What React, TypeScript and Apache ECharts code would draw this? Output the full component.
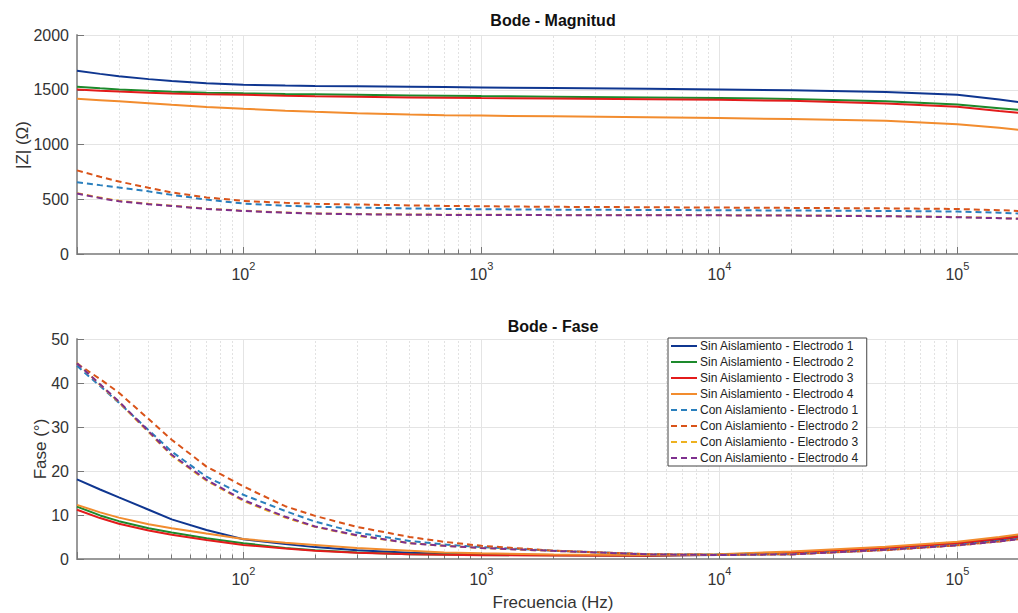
import React, { useEffect, useRef } from 'react';
import * as echarts from 'echarts';

const FREQ = [20, 25, 30, 40, 50, 70, 100, 150, 200, 300, 500, 700, 1000, 2000, 5000, 10000, 20000, 50000, 100000, 150000, 200000];

const MAG_SIN1 = [1674, 1645, 1624, 1597, 1579, 1559, 1546, 1538, 1534, 1531, 1527, 1524, 1521, 1515, 1508, 1503, 1496, 1479, 1454, 1412, 1375];
const MAG_SIN2 = [1527, 1513, 1503, 1490, 1482, 1473, 1467, 1461, 1458, 1454, 1448, 1445, 1442, 1437, 1430, 1424, 1416, 1396, 1366, 1332, 1308];
const MAG_SIN3 = [1503, 1491, 1483, 1472, 1466, 1459, 1454, 1446, 1441, 1436, 1430, 1427, 1424, 1419, 1413, 1408, 1399, 1375, 1344, 1306, 1280];
const MAG_SIN4 = [1418, 1405, 1394, 1376, 1362, 1343, 1326, 1309, 1298, 1285, 1273, 1268, 1264, 1257, 1248, 1241, 1233, 1216, 1186, 1152, 1125];
const MAG_CON1 = [656, 629, 607, 572, 540, 497, 461, 441, 432, 424, 416, 412, 409, 405, 402, 400, 397, 393, 388, 377, 366];
const MAG_CON2 = [764, 705, 662, 605, 562, 517, 485, 467, 458, 452, 444, 439, 436, 431, 427, 424, 421, 417, 411, 400, 390];
const MAG_CON3 = [556, 515, 486, 458, 441, 414, 395, 379, 371, 365, 361, 359, 358, 357, 356, 355, 353, 347, 338, 329, 320];
const MAG_CON4 = [552, 511, 481, 455, 439, 412, 393, 377, 369, 363, 359, 357, 356, 355, 354, 353, 351, 345, 336, 327, 318];

const PH_SIN1 = [18.1, 15.8, 14.0, 11.2, 9.0, 6.6, 4.5, 3.4, 2.7, 2.0, 1.4, 1.2, 1.0, 0.9, 0.8, 0.9, 1.3, 2.3, 3.5, 4.4, 5.2];
const PH_SIN2 = [11.9, 9.9, 8.6, 7.0, 6.0, 4.7, 3.6, 2.5, 2.0, 1.5, 1.1, 1.0, 0.9, 0.85, 0.8, 1.0, 1.5, 2.6, 3.7, 4.7, 5.5];
const PH_SIN3 = [11.2, 9.3, 8.0, 6.5, 5.5, 4.3, 3.2, 2.4, 1.9, 1.4, 1.1, 0.95, 0.85, 0.8, 0.75, 0.95, 1.45, 2.5, 3.6, 4.6, 5.3];
const PH_SIN4 = [12.3, 10.6, 9.4, 7.9, 7.0, 5.8, 4.55, 3.7, 3.2, 2.5, 1.9, 1.5, 1.3, 1.05, 0.9, 1.1, 1.7, 2.8, 3.9, 5.0, 5.9];
const PH_CON1 = [43.9, 39.3, 35.5, 29.3, 24.4, 18.7, 14.6, 10.9, 8.5, 6.0, 4.1, 3.3, 2.7, 1.9, 1.1, 0.95, 1.1, 2.1, 3.2, 4.1, 4.9];
const PH_CON2 = [44.4, 40.9, 37.8, 31.8, 27.1, 21.0, 16.5, 12.0, 9.8, 7.3, 5.0, 3.9, 3.0, 1.9, 1.1, 0.95, 1.1, 2.0, 3.1, 4.0, 4.8];
const PH_CON3 = [44.6, 39.6, 35.6, 28.8, 23.5, 17.8, 13.2, 9.4, 7.3, 5.3, 3.6, 3.0, 2.5, 1.85, 1.05, 0.9, 1.05, 2.1, 3.1, 4.0, 4.8];
const PH_CON4 = [44.5, 39.7, 35.8, 29.0, 23.7, 18.0, 13.4, 9.6, 7.4, 5.4, 3.6, 3.0, 2.5, 1.85, 1.05, 0.9, 1.05, 2.1, 3.1, 4.0, 4.8];

const NAMES = [
  'Sin Aislamiento - Electrodo 1',
  'Sin Aislamiento - Electrodo 2',
  'Sin Aislamiento - Electrodo 3',
  'Sin Aislamiento - Electrodo 4',
  'Con Aislamiento - Electrodo 1',
  'Con Aislamiento - Electrodo 2',
  'Con Aislamiento - Electrodo 3',
  'Con Aislamiento - Electrodo 4',
];
const COLORS = ['#0f3690', '#1d8a2c', '#e31b1b', '#f28c2e', '#2a7fbd', '#d95319', '#edb120', '#7e2f8e'];
const DASHED = [false, false, false, false, true, true, true, true];

const MAG = [MAG_SIN1, MAG_SIN2, MAG_SIN3, MAG_SIN4, MAG_CON1, MAG_CON2, MAG_CON3, MAG_CON4];
const PH = [PH_SIN1, PH_SIN2, PH_SIN3, PH_SIN4, PH_CON1, PH_CON2, PH_CON3, PH_CON4];

const MINOR_FREQS = [30, 40, 50, 60, 70, 80, 90, 200, 300, 400, 500, 600, 700, 800, 900,
  2000, 3000, 4000, 5000, 6000, 7000, 8000, 9000, 20000, 30000, 40000, 50000, 60000, 70000, 80000, 90000];

const X_MIN = 20;
const X_MAX = 200000;
const MAG_TICKS = { min: 0, max: 2000, interval: 500 };
const PH_TICKS = { min: 0, max: 50, interval: 10 };

const FONT = 'Liberation Sans, Arial, Helvetica, sans-serif';

export default function App() {
  const ref = useRef<HTMLDivElement>(null);
  useEffect(() => {
    if (!ref.current) return;
    const chart = echarts.init(ref.current, null, { renderer: 'svg' });

    const gridL = 77;
    const gridW = 952;
    const grids = [
      { left: gridL, top: 35, width: gridW, height: 219, outerBoundsMode: 'none', containLabel: false },
      { left: gridL, top: 339, width: gridW, height: 220, outerBoundsMode: 'none', containLabel: false },
    ];

    const xAxisBase = (gi: number) => ({
      type: 'log',
      logBase: 10,
      gridIndex: gi,
      min: X_MIN,
      max: X_MAX,
      axisLine: { show: true, lineStyle: { color: '#9a9a9a', width: 2 } },
      axisTick: { show: true, inside: true, length: 7, lineStyle: { color: '#777', width: 1 } },
      splitLine: { show: true, lineStyle: { color: '#e4e4e4', width: 1 } },
      axisLabel: {
        margin: 6,
        color: '#333',
        fontFamily: FONT,
        formatter: (v: number) => {
          const e = Math.log10(v);
          const r = Math.round(e);
          if (Math.abs(e - r) > 1e-6) return '';
          return `{a|10}{b|${r}}`;
        },
        rich: {
          a: { fontSize: 16, fontFamily: FONT, color: '#333', lineHeight: 22, verticalAlign: 'bottom' },
          b: { fontSize: 11, fontFamily: FONT, color: '#333', lineHeight: 11, verticalAlign: 'top' },
        },
      },
    });

    const yAxisBase = (gi: number, t: { min: number; max: number; interval: number }) => ({
      type: 'value',
      gridIndex: gi,
      min: t.min,
      max: t.max,
      interval: t.interval,
      axisLine: { show: true, lineStyle: { color: '#9a9a9a', width: 2 } },
      axisTick: { show: true, inside: true, length: 7, lineStyle: { color: '#777', width: 1 } },
      splitLine: { show: true, lineStyle: { color: '#e4e4e4', width: 1 } },
      axisLabel: { margin: 8, color: '#333', fontSize: 16, fontFamily: FONT, formatter: (v: number) => String(v) },
    });

    const gridMarks = (tickTop: number) => ({
      silent: true,
      symbol: ['none', 'none'],
      label: { show: false },
      z: 1,
      data: [
        ...MINOR_FREQS.map((f) => ({ xAxis: f, lineStyle: { color: '#e2e2e2', type: [2, 2], width: 1 } })),
        ...MINOR_FREQS.map((f) => [
          { coord: [f, 0], lineStyle: { color: '#777', type: 'solid', width: 1 } },
          { coord: [f, tickTop] },
        ]),
      ],
    });

    const series: any[] = [];
    series.push({
      type: 'line', name: '_g0', xAxisIndex: 0, yAxisIndex: 0, data: [], z: 1,
      markLine: gridMarks(MAG_TICKS.max * 4.5 / 219),
    });
    series.push({
      type: 'line', name: '_g1', xAxisIndex: 1, yAxisIndex: 1, data: [], z: 1,
      markLine: gridMarks(PH_TICKS.max * 4.5 / 220),
    });

    NAMES.forEach((name, i) => {
      const ls = {
        color: COLORS[i],
        width: 2,
        type: DASHED[i] ? [6, 4] : 'solid',
      };
      series.push({
        type: 'line', name, xAxisIndex: 0, yAxisIndex: 0, symbol: 'none', z: 3,
        smooth: false,
        itemStyle: { color: COLORS[i] },
        lineStyle: ls,
        data: FREQ.map((f, k) => [f, MAG[i][k]]),
      });
      series.push({
        type: 'line', name, xAxisIndex: 1, yAxisIndex: 1, symbol: 'none', z: 3,
        smooth: false,
        itemStyle: { color: COLORS[i] },
        lineStyle: ls,
        data: FREQ.map((f, k) => [f, PH[i][k]]),
      });
    });

    const option: any = {
      animation: false,
      backgroundColor: '#ffffff',
      textStyle: { fontFamily: FONT },
      grid: grids,
      xAxis: [xAxisBase(0), xAxisBase(1)],
      yAxis: [yAxisBase(0, MAG_TICKS), yAxisBase(1, PH_TICKS)],
      legend: {
        data: NAMES,
        orient: 'vertical',
        left: 668,
        top: 338,
        itemWidth: 26,
        itemHeight: 12,
        itemGap: 4,
        padding: [2, 8, 2, 2],
        borderColor: '#444',
        borderWidth: 1,
        backgroundColor: '#ffffff',
        itemStyle: { color: 'rgba(0,0,0,0)', borderWidth: 0, opacity: 0 },
        textStyle: { fontSize: 12, color: '#222', fontFamily: FONT, padding: [0, 0, 0, -2] },
        z: 10,
      },
      graphic: [
        { type: 'text', x: 553, y: 20, style: { text: 'Bode - Magnitud', font: `bold 16px ${FONT}`, fill: '#111', textAlign: 'center', textVerticalAlign: 'middle' } },
        { type: 'text', x: 553, y: 326, style: { text: 'Bode - Fase', font: `bold 16px ${FONT}`, fill: '#111', textAlign: 'center', textVerticalAlign: 'middle' } },
        { type: 'text', x: 553, y: 602, style: { text: 'Frecuencia (Hz)', font: `17px ${FONT}`, fill: '#333', textAlign: 'center', textVerticalAlign: 'middle' } },
        { type: 'text', x: 22, y: 145, rotation: Math.PI / 2, style: { text: '|Z| (Ω)', font: `17px ${FONT}`, fill: '#333', textAlign: 'center', textVerticalAlign: 'middle' } },
        { type: 'text', x: 40, y: 449, rotation: Math.PI / 2, style: { text: 'Fase (°)', font: `17px ${FONT}`, fill: '#333', textAlign: 'center', textVerticalAlign: 'middle' } },
      ],
      series,
    };
    chart.setOption(option);
    return () => chart.dispose();
  }, []);
  return <div ref={ref} style={{ position: 'fixed', left: 0, top: 0, width: 1018, height: 613, background: '#fff' }} />;
}
